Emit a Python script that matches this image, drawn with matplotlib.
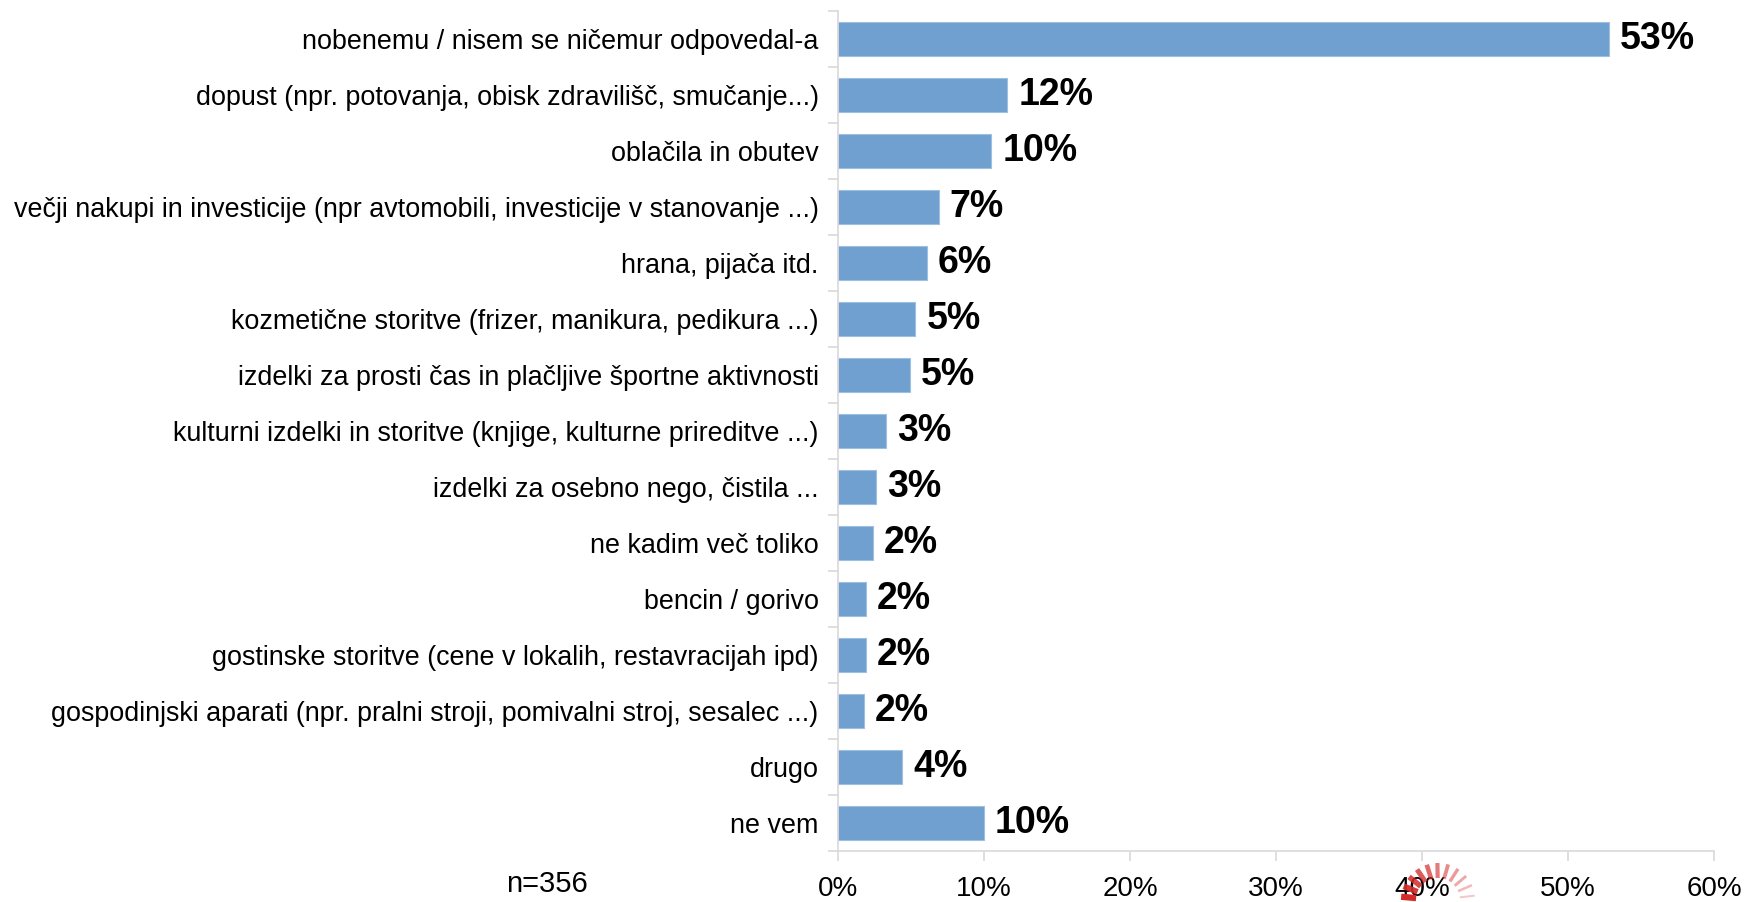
import numpy as np
import matplotlib
matplotlib.use("Agg")
import matplotlib.pyplot as plt
from matplotlib.ticker import FixedLocator, NullFormatter

plt.rcParams['font.family'] = ['Liberation Sans', 'DejaVu Sans']

categories = [
    "nobenemu / nisem se ničemur odpovedal-a",
    "dopust (npr. potovanja, obisk zdravilišč, smučanje...)",
    "oblačila in obutev",
    "večji nakupi in investicije (npr avtomobili, investicije v stanovanje ...)",
    "hrana, pijača itd.",
    "kozmetične storitve (frizer, manikura, pedikura ...)",
    "izdelki za prosti čas in plačljive športne aktivnosti",
    "kulturni izdelki in storitve (knjige, kulturne prireditve ...)",
    "izdelki za osebno nego, čistila ...",
    "ne kadim več toliko",
    "bencin / gorivo",
    "gostinske storitve (cene v lokalih, restavracijah ipd)",
    "gospodinjski aparati (npr. pralni stroji, pomivalni stroj, sesalec ...)",
    "drugo",
    "ne vem",
]
shares = [52.8, 11.6, 10.5, 6.9, 6.1, 5.3, 4.9, 3.3, 2.6, 2.4, 1.9, 1.9, 1.8, 4.4, 10.0]
x_ticks = [0, 10, 20, 30, 40, 50, 60]
sample_note = "n=356"

bar_color = "#70a0d0"
grid_grey = "#d9d9d9"

W, H = 1744, 902
fig = plt.figure(figsize=(W / 100, H / 100), dpi=100)
ax = fig.add_axes([838 / W, 1 - 851 / H, (1714 - 838) / W, (851 - 11) / H])

n = len(categories)
y = np.arange(n)
ax.barh(y, shares, height=0.6, color=bar_color, edgecolor="#9cc0e2", linewidth=0.8, zorder=2)
ax.set_ylim(n - 0.5, -0.5)
ax.set_xlim(0, 60)

for yi, v in zip(y, shares):
    ax.text(v + 0.75, yi, f"{v:.0f}%", va="center", ha="left",
            fontsize=27, fontweight="bold", color="black")

# category labels at bar centres, tick marks at category boundaries
ax.set_yticks(y)
ax.set_yticklabels(categories, fontsize=19.4)
ax.tick_params(axis="y", which="major", length=0, pad=14)
ax.yaxis.set_minor_locator(FixedLocator(np.arange(-0.5, n, 1.0)))
ax.yaxis.set_minor_formatter(NullFormatter())
ax.tick_params(axis="y", which="minor", length=7, color=grid_grey, width=1.2)

ax.set_xticks(x_ticks)
ax.set_xticklabels([f"{t}%" for t in x_ticks], fontsize=20)
ax.tick_params(axis="x", length=7, color=grid_grey, width=1.2, pad=11)

for side in ("top", "right"):
    ax.spines[side].set_visible(False)
for side in ("left", "bottom"):
    ax.spines[side].set_color(grid_grey)
    ax.spines[side].set_linewidth(1.2)

fig.text(547 / W, 1 - 884 / H, sample_note, ha="center", va="center", fontsize=21)

# busy indicator overlay near the axis labels
cx, cy = 1438, 900
for k, ang in enumerate(np.linspace(175, -10, 12)):
    a = np.deg2rad(ang)
    r0, r1 = 22, 37
    alpha = max(0.2, 1 - k * 0.075)
    lw = 4.5 - k * 0.3
    fig.add_artist(plt.Line2D(
        [(cx + r0 * np.cos(a)) / W, (cx + r1 * np.cos(a)) / W],
        [(H - cy + r0 * np.sin(a)) / H, (H - cy + r1 * np.sin(a)) / H],
        color="#d42a2a", alpha=alpha, linewidth=lw, solid_capstyle="butt"))

fig.savefig("out.png", dpi=100, facecolor="white")
